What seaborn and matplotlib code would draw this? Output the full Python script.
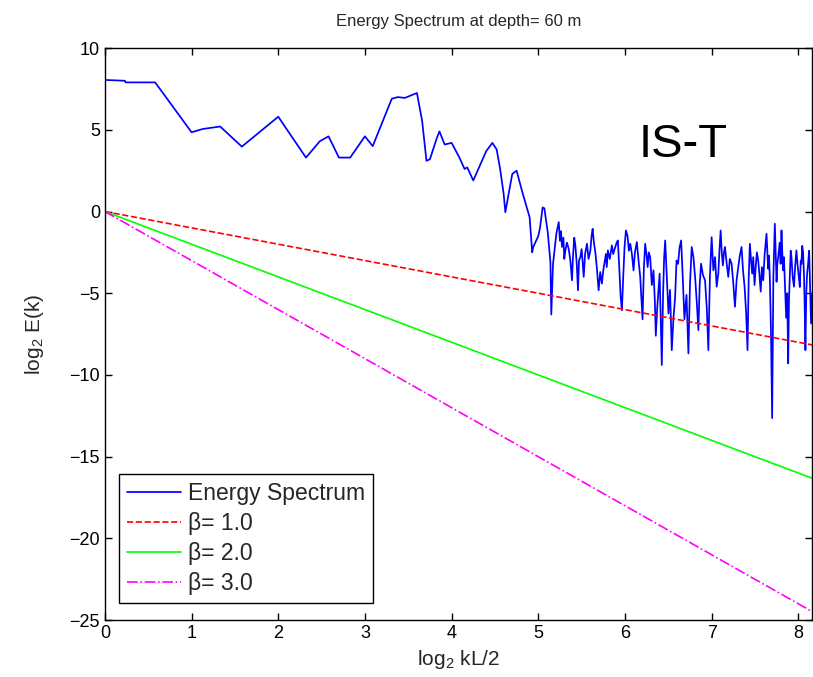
import matplotlib
matplotlib.use('Agg')
import matplotlib.pyplot as plt
import seaborn as sns

# Energy spectrum
# smooth low-wavenumber part
low_x = [0.0, 0.23, 0.24, 0.58, 1.0, 1.13, 1.33, 1.58, 2.0, 2.32, 2.48, 2.58, 2.70, 2.83,
         3.0, 3.09, 3.31, 3.38, 3.46, 3.60, 3.66, 3.71, 3.75, 3.83, 3.86, 3.92, 4.0, 4.09,
         4.15, 4.18, 4.25, 4.35, 4.40, 4.47, 4.52, 4.56, 4.60, 4.62, 4.65, 4.70, 4.75, 4.81,
         4.87, 4.90, 4.93, 4.94, 5.0, 5.02, 5.05, 5.07, 5.11, 5.14, 5.15, 5.17, 5.21]
low_y = [8.05, 8.0, 7.9, 7.9, 4.85, 5.05, 5.2, 3.97, 5.8, 3.3, 4.3, 4.6, 3.3, 3.3,
         4.6, 4.0, 6.9, 7.0, 6.95, 7.25, 5.55, 3.1, 3.2, 4.5, 4.9, 4.1, 4.2, 3.3,
         2.6, 2.7, 1.9, 3.1, 3.7, 4.2, 3.8, 2.6, 1.1, -0.05, 0.85, 2.3, 2.5, 1.3,
         0.2, -0.35, -2.5, -2.2, -1.5, -1.0, 0.25, 0.2, -1.3, -3.1, -6.3, -3.2, -1.3]

# noisy high-wavenumber part
high_x = [5.236, 5.25, 5.262, 5.274, 5.29, 5.30, 5.313, 5.33, 5.351, 5.37, 5.389, 5.40,
          5.415, 5.428, 5.445, 5.458, 5.47, 5.485, 5.50, 5.512, 5.524, 5.54, 5.562, 5.58,
          5.601, 5.615, 5.627, 5.642, 5.658, 5.675, 5.696, 5.715, 5.734, 5.75, 5.765, 5.78,
          5.79, 5.803, 5.825, 5.849, 5.865, 5.888, 5.905, 5.918, 5.935, 5.95, 5.965, 5.98,
          5.995, 6.011, 6.03, 6.045, 6.061, 6.08, 6.099, 6.115, 6.137, 6.155, 6.176, 6.19,
          6.203, 6.218, 6.233, 6.25, 6.262, 6.275, 6.291, 6.31, 6.329, 6.345, 6.356, 6.372,
          6.387, 6.40, 6.412, 6.425, 6.44, 6.452, 6.464, 6.482, 6.502, 6.52, 6.540, 6.56,
          6.579, 6.595, 6.613, 6.63, 6.648, 6.665, 6.686, 6.71, 6.732, 6.75, 6.770, 6.79,
          6.809, 6.828, 6.847, 6.862, 6.878, 6.90, 6.924, 6.945, 6.962, 6.98, 7.0, 7.02,
          7.039, 7.058, 7.077, 7.09, 7.104, 7.118, 7.130, 7.142, 7.154, 7.172, 7.192, 7.21,
          7.230, 7.25, 7.269, 7.288, 7.307, 7.325, 7.345, 7.362, 7.380, 7.398, 7.414, 7.428,
          7.441, 7.455, 7.468, 7.480, 7.495, 7.508, 7.522, 7.537, 7.552, 7.566, 7.58, 7.595,
          7.612, 7.633, 7.645, 7.652, 7.662, 7.672, 7.685, 7.698, 7.712, 7.729, 7.74, 7.749,
          7.758, 7.768, 7.785, 7.796, 7.806, 7.815, 7.825, 7.834, 7.844, 7.86, 7.872, 7.883,
          7.892, 7.902, 7.912, 7.921, 7.935, 7.950, 7.964, 7.978, 7.99, 8.004, 8.017, 8.028,
          8.036, 8.045, 8.055, 8.066, 8.074, 8.082, 8.092, 8.100, 8.113, 8.125, 8.135, 8.147,
          8.16]
high_y = [-0.65, -1.8, -1.2, -2.17, -1.6, -2.9, -2.38, -1.9, -2.28, -3.0, -4.21, -2.8,
          -1.6, -2.07, -3.3, -4.82, -3.0, -2.79, -2.3, -3.1, -4.0, -2.6, -1.97, -2.9,
          -2.38, -1.5, -1.06, -1.9, -2.48, -3.4, -4.82, -3.7, -4.41, -3.6, -3.09, -2.6,
          -3.4, -2.38, -2.9, -2.07, -2.6, -2.17, -1.9, -1.77, -3.5, -5.2, -6.04, -4.0,
          -2.2, -1.16, -1.5, -2.4, -1.97, -2.6, -3.6, -2.5, -1.87, -2.9, -4.0, -5.3,
          -6.59, -3.5, -1.97, -2.7, -3.4, -2.5, -2.79, -4.5, -3.6, -5.5, -7.6, -5.9,
          -4.82, -3.8, -6.5, -9.39, -5.0, -2.8, -1.77, -3.9, -6.24, -4.8, -8.48, -6.5,
          -5.22, -3.0, -3.2, -2.2, -1.77, -3.8, -6.59, -5.1, -8.68, -4.5, -2.17, -2.8,
          -4.0, -5.5, -7.26, -4.5, -3.19, -3.9, -4.21, -6.0, -8.48, -4.0, -1.57, -3.6,
          -2.79, -4.6, -3.8, -2.4, -1.16, -2.6, -3.3, -2.5, -2.17, -3.1, -4.0, -2.9,
          -3.19, -4.4, -5.83, -4.2, -3.4, -2.7, -2.17, -3.6, -4.6, -6.2, -8.48, -4.0,
          -1.97, -3.0, -3.8, -2.79, -4.5, -3.4, -2.5, -2.99, -3.9, -4.9, -3.4, -4.21,
          -2.6, -1.36, -2.8, -3.5, -2.7, -4.21, -7.5, -12.64, -4.0, -0.75, -2.6, -4.3,
          -3.2, -2.79, -1.9, -3.2, -1.16, -2.5, -3.6, -2.8, -4.21, -6.5, -5.0, -9.29,
          -5.5, -3.9, -2.4, -2.79, -4.0, -4.6, -3.3, -2.38, -3.2, -3.9, -4.62, -3.0,
          -3.2, -2.1, -2.48, -4.0, -6.0, -8.48, -5.0, -3.9, -3.19, -2.4, -4.5, -6.85,
          -5.0]

spec_x = low_x + high_x
spec_y = low_y + high_y

# reference slopes log2 E ~ -beta * log2 k
beta_x = [0.0, 8.16]
beta1_y = [0.0, -8.16]
beta2_y = [0.0, -16.32]
beta3_y = [0.0, -24.48]

sns.set_style("ticks")
plt.rcParams['font.family'] = ['Liberation Sans', 'DejaVu Sans']
plt.rcParams['mathtext.fontset'] = 'custom'
plt.rcParams['mathtext.rm'] = 'Liberation Sans'

fig = plt.figure(figsize=(8.13, 6.77), dpi=100)
ax = fig.add_axes([0.129, 0.084, 0.870, 0.845])

sns.lineplot(x=spec_x, y=spec_y, sort=False, color='#0000ff', linewidth=1.25,
             label='Energy Spectrum', ax=ax)
sns.lineplot(x=beta_x, y=beta1_y, color='#ff0000', linestyle='--', dashes=(6, 4),
             linewidth=1.2, label='β= 1.0', ax=ax)
sns.lineplot(x=beta_x, y=beta2_y, color='#00ff00', linewidth=1.2, label='β= 2.0', ax=ax)
sns.lineplot(x=beta_x, y=beta3_y, color='#ff00ff', linestyle='-.', linewidth=1.2,
             label='β= 3.0', ax=ax)

ax.set_xlim(0, 8.16)
ax.set_ylim(-25, 10)
ax.set_xticks(range(0, 9))
ax.set_yticks(range(-25, 11, 5))
ax.set_yticklabels(['\u221225', '\u221220', '\u221215', '\u221210', '\u22125', '0', '5', '10'])
ax.tick_params(direction='in', length=5, width=1, labelsize=13, top=True, right=True,
               colors='black')
for side in ['top', 'right', 'bottom', 'left']:
    ax.spines[side].set_visible(True)
    ax.spines[side].set_color('black')
    ax.spines[side].set_linewidth(1.0)

ax.set_title('Energy Spectrum at depth= 60 m', fontsize=12, pad=16)
ax.set_xlabel('log$_2$ kL/2', fontsize=15, labelpad=4)
ax.set_ylabel('log$_2$ E(k)', fontsize=15, labelpad=17)

ax.text(6.67, 4.1, 'IS-T', fontsize=34, ha='center', va='center', color='black')

leg = ax.legend(loc='lower left', bbox_to_anchor=(0.02, 0.03), borderaxespad=0,
                fontsize=16.5, fancybox=False, framealpha=1, edgecolor='black',
                handlelength=2.35, borderpad=0.35, labelspacing=0.3, handletextpad=0.3)
leg.get_frame().set_linewidth(1.0)

fig.savefig('out.png', dpi=100)
